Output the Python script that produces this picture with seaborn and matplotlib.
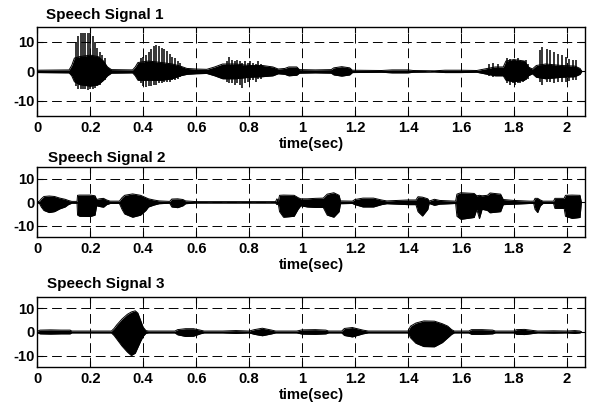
import numpy as np
import seaborn as sns
import matplotlib.pyplot as plt
from matplotlib import transforms

# ---- envelope breakpoints (time in s, amplitude) ----
s1_t = [0.00, 0.12, 0.13, 0.14, 0.16, 0.20, 0.23, 0.25, 0.265, 0.28, 0.36, 0.37, 0.38, 0.42,
        0.47, 0.51, 0.54, 0.565, 0.60, 0.64, 0.67, 0.70, 0.75, 0.80, 0.85, 0.89, 0.91, 0.935,
        0.95, 0.98, 0.99, 1.05, 1.11, 1.12, 1.15, 1.18, 1.19, 1.30, 1.34, 1.40, 1.42, 1.50,
        1.54, 1.60, 1.66, 1.70, 1.73, 1.76, 1.77, 1.80, 1.84, 1.855, 1.87, 1.885, 1.92, 1.98,
        2.03, 2.05, 2.057]
s1_hi = [0.4, 0.5, 2.0, 4.5, 5.0, 5.5, 5.0, 3.5, 1.5, 0.6, 0.5, 1.5, 3.0, 3.5,
         3.0, 2.5, 1.8, 1.0, 0.8, 0.7, 1.5, 2.5, 2.5, 2.0, 2.0, 1.5, 0.8, 1.0,
         1.5, 1.5, 0.6, 0.5, 0.6, 1.2, 1.6, 1.2, 0.4, 0.3, 0.5, 0.5, 0.3, 0.2,
         0.4, 0.4, 0.3, 1.0, 1.5, 1.5, 3.5, 4.0, 3.5, 1.5, 0.8, 2.0, 2.5, 2.0,
         1.8, 1.0, 0.0]
s1_lo = [-0.4, -0.5, -1.5, -3.5, -4.5, -5.0, -4.5, -3.0, -1.5, -0.6, -0.5, -1.5, -3.0, -3.0,
         -3.0, -2.5, -1.5, -1.0, -0.8, -0.7, -1.5, -2.5, -2.5, -2.0, -1.8, -1.5, -0.8, -1.0,
         -1.5, -1.3, -0.6, -0.5, -0.6, -1.2, -1.6, -1.2, -0.4, -0.3, -0.5, -0.5, -0.3, -0.2,
         -0.4, -0.4, -0.3, -1.0, -1.5, -1.5, -3.0, -3.5, -3.0, -1.5, -0.8, -2.0, -2.5, -2.0,
         -1.8, -1.0, 0.0]

# pitch pulses of signal 1
s1_spike_t = [0.146, 0.155, 0.164, 0.173, 0.182, 0.191, 0.200, 0.209, 0.218, 0.227, 0.236, 0.245, 0.254,
              0.39, 0.40, 0.41, 0.42, 0.43, 0.44, 0.45, 0.46, 0.47, 0.48, 0.49, 0.50, 0.51, 0.52, 0.53, 0.54,
              0.715, 0.725, 0.735, 0.745, 0.755, 0.765, 0.775, 0.785, 0.795, 0.805, 0.815, 0.825, 0.835, 0.845,
              1.705, 1.72, 1.74, 1.775, 1.785, 1.795, 1.805, 1.815, 1.825, 1.835, 1.845, 1.855,
              1.897, 1.908, 1.924, 1.937, 1.953, 1.968, 1.981, 1.997, 2.010, 2.022, 2.035]
s1_spike_hi = [10, 12, 13, 13, 13, 13, 13, 12, 10, 8, 6.5, 5.5, 4.5,
               4.5, 5, 5.5, 6.5, 7.5, 8.5, 8.8, 8.5, 8, 7.5, 7, 6, 5, 4.5, 3.5, 3,
               3.5, 4.8, 4, 3.5, 4, 3.5, 3, 3.5, 3, 3.5, 3, 2.5, 3.5, 2.5,
               2.5, 3, 2.5, 4.5, 4.3, 4, 4, 4.5, 3.5, 3.5, 4, 2.5,
               7.1, 8.2, 7.6, 7.1, 6.5, 6.0, 5.4, 4.8, 4.3, 3.9, 3.7]
s1_spike_lo = [-5, -6, -6, -6, -6, -6.3, -6, -6, -5.5, -5, -4.5, -3.5, -3,
               -4, -5, -5.3, -5, -5, -4.5, -4.5, -4, -4, -3.5, -3.5, -3.5, -3, -3, -2.5, -2,
               -3.5, -4, -4, -4.5, -4, -4.5, -5.5, -4, -3.5, -3, -3, -3.5, -2.5, -2.5,
               -1.5, -2, -1.5, -4, -4.5, -4, -4.7, -4, -4, -3.5, -3, -2.5,
               -3.6, -4.5, -3.6, -3.6, -4, -3.6, -3.5, -3.5, -3.2, -3, -3]

s2_t = [0.000, 0.008, 0.015, 0.025, 0.045, 0.065, 0.085, 0.105, 0.117, 0.13, 0.15, 0.152, 0.16,
        0.20, 0.218, 0.224, 0.235, 0.25, 0.262, 0.275, 0.31, 0.32, 0.33, 0.36, 0.39, 0.41, 0.42,
        0.44, 0.46, 0.50, 0.508, 0.53, 0.55, 0.56, 0.60, 0.90, 0.905, 0.91, 0.915, 0.93, 0.97,
        0.985, 0.995, 1.02, 1.05, 1.08, 1.095, 1.12, 1.14, 1.145, 1.19, 1.20, 1.23, 1.27, 1.30,
        1.32, 1.36, 1.40, 1.43, 1.438, 1.455, 1.475, 1.48, 1.50, 1.52, 1.58, 1.585, 1.60, 1.65,
        1.66, 1.67, 1.68, 1.70, 1.71, 1.75, 1.76, 1.80, 1.86, 1.875, 1.88, 1.89, 1.90, 1.91,
        1.95, 1.955, 1.99, 1.995, 2.02, 2.05, 2.055]
s2_hi = [0.2, 0.5, 1.5, 2.5, 2.7, 2.5, 1.8, 1.3, 0.8, 0.4, 0.4, 3.0, 3.1,
         3.1, 2.8, 1.2, 1.5, 1.7, 1.0, 0.5, 0.5, 2.0, 3.0, 3.6, 3.0, 2.0, 1.5,
         1.0, 0.6, 0.4, 1.4, 1.5, 1.2, 0.6, 0.3, 0.3, 1.5, 0.5, 3.0, 3.1, 3.0,
         2.0, 1.5, 1.5, 1.7, 1.8, 3.5, 4.1, 3.0, 0.6, 0.5, 1.2, 1.8, 1.8, 1.0,
         0.6, 0.8, 1.0, 1.0, 2.4, 2.2, 1.5, 0.5, 1.3, 0.8, 0.5, 3.5, 4.1, 3.8,
         2.8, 3.0, 2.8, 3.0, 4.0, 3.5, 1.2, 0.8, 0.5, 0.5, 1.7, 1.7, 1.0, 0.5,
         0.5, 1.7, 1.7, 3.0, 3.1, 3.0, 0.0]
s2_lo = [-0.2, -0.5, -2.0, -3.5, -4.4, -4.0, -2.8, -2.0, -1.0, -0.4, -0.4, -5.5, -6.0,
         -6.1, -5.5, -1.5, -1.8, -2.1, -1.0, -0.5, -0.5, -3.0, -5.0, -6.4, -5.5, -3.5, -2.0,
         -1.2, -0.6, -0.4, -2.0, -2.3, -1.5, -0.6, -0.3, -0.3, -1.0, -0.5, -4.0, -6.4, -6.0,
         -3.0, -1.5, -2.0, -2.2, -2.2, -5.5, -6.4, -4.0, -0.6, -0.5, -1.0, -2.0, -2.0, -1.0,
         -0.6, -0.8, -1.0, -1.0, -4.0, -5.9, -3.0, -0.5, -1.3, -0.8, -0.5, -6.0, -7.3, -6.5,
         -3.0, -7.0, -3.0, -3.5, -4.5, -4.0, -1.0, -0.8, -0.5, -0.5, -3.0, -4.4, -1.5, -0.5,
         -0.5, -2.6, -2.6, -6.0, -6.9, -6.5, 0.0]

s3_t = [0.000, 0.01, 0.05, 0.09, 0.124, 0.13, 0.28, 0.29, 0.30, 0.32, 0.34, 0.355, 0.37,
        0.38, 0.39, 0.40, 0.41, 0.42, 0.52, 0.53, 0.56, 0.59, 0.615, 0.63, 0.70, 0.75, 0.80,
        0.82, 0.85, 0.885, 0.90, 0.98, 1.00, 1.05, 1.09, 1.10, 1.15, 1.16, 1.19, 1.23, 1.25,
        1.40, 1.41, 1.43, 1.46, 1.50, 1.53, 1.55, 1.565, 1.575, 1.63, 1.64, 1.68, 1.72, 1.73,
        1.80, 1.81, 1.84, 1.875, 1.89, 1.95, 2.00, 2.03, 2.05, 2.056]
s3_hi = [0.3, 0.8, 0.9, 0.8, 0.8, 0.4, 0.4, 1.5, 3.0, 5.5, 7.5, 8.5, 9.0,
         8.0, 5.0, 2.0, 0.6, 0.4, 0.4, 1.0, 1.4, 1.4, 0.8, 0.4, 0.4, 0.6, 0.4,
         1.0, 1.6, 0.8, 0.4, 0.4, 0.9, 1.0, 0.8, 0.4, 0.4, 1.5, 1.9, 0.8, 0.4,
         0.4, 2.5, 3.8, 4.7, 4.6, 3.5, 2.5, 1.0, 0.4, 0.4, 1.0, 1.0, 0.8, 0.4,
         0.4, 1.0, 1.1, 0.6, 0.4, 0.5, 0.4, 0.6, 0.4, 0.0]
s3_lo = [-0.3, -0.8, -0.9, -0.8, -0.8, -0.4, -0.4, -1.5, -3.0, -6.0, -8.5, -10.0, -9.0,
         -6.5, -4.0, -1.8, -0.6, -0.4, -0.4, -1.2, -1.9, -1.8, -0.8, -0.4, -0.4, -0.6, -0.4,
         -1.0, -1.6, -0.8, -0.4, -0.4, -0.9, -1.0, -0.8, -0.4, -0.4, -1.5, -2.1, -0.8, -0.4,
         -0.4, -2.5, -4.8, -6.2, -6.3, -4.5, -2.5, -1.0, -0.4, -0.4, -1.0, -1.0, -0.8, -0.4,
         -0.4, -1.0, -1.1, -0.6, -0.4, -0.5, -0.4, -0.6, -0.4, 0.0]

titles = ['Speech Signal 1', 'Speech Signal 2', 'Speech Signal 3']
x_ticks = [0, 0.2, 0.4, 0.6, 0.8, 1.0, 1.2, 1.4, 1.6, 1.8, 2.0]
x_labels = ['0', '0.2', '0.4', '0.6', '0.8', '1', '1.2', '1.4', '1.6', '1.8', '2']
y_ticks = [-10, 0, 10]
y_labels = ['-10', '0', '10']

sns.set_theme(style='ticks')
plt.rcParams['font.family'] = ['Liberation Sans', 'DejaVu Sans']
plt.rcParams['font.weight'] = 'bold'
plt.rcParams['axes.unicode_minus'] = False

fig = plt.figure(figsize=(5.96, 4.09), dpi=100)
fig.patch.set_facecolor('white')

# axes boxes in figure fractions (left, bottom, width, height)
boxes = [[0.0626, 0.717, 0.9195, 0.2169],
         [0.0626, 0.4198, 0.9195, 0.1711],
         [0.0626, 0.102, 0.9195, 0.1726]]
title_dy = [8.5, 5, 9]
title_dx = [8.5, 11, 10]

signals = [(s1_t, s1_hi, s1_lo), (s2_t, s2_hi, s2_lo), (s3_t, s3_hi, s3_lo)]

for i, (t, hi, lo) in enumerate(signals):
    ax = fig.add_axes(boxes[i])
    ax.set_facecolor('white')
    ax.fill_between(t, lo, hi, color='black', linewidth=0)
    sns.lineplot(x=t, y=hi, ax=ax, color='black', linewidth=0.7, estimator=None)
    sns.lineplot(x=t, y=lo, ax=ax, color='black', linewidth=0.7, estimator=None)
    if i == 0:
        ax.vlines(s1_spike_t, s1_spike_lo, s1_spike_hi, color='black', linewidth=1.1)

    ax.set_xlim(0, 2.07)
    ax.set_ylim(-15, 15)
    ax.set_xticks(x_ticks)
    ax.set_xticklabels(x_labels)
    ax.set_yticks(y_ticks)
    ax.set_yticklabels(y_labels)
    ax.grid(True, color='black', linestyle=(0, (10, 5)), linewidth=0.7)
    ax.set_axisbelow(True)
    ax.tick_params(axis='both', direction='in', top=True, right=True, length=4,
                   width=0.8, color='black', labelsize=10.7, labelcolor='black')
    ax.tick_params(axis='x', pad=3.5)
    ax.tick_params(axis='y', pad=2)
    for sp in ax.spines.values():
        sp.set_color('black')
        sp.set_linewidth(1.0)
    ax.set_xlabel('time(sec)', fontsize=10.7, fontweight='bold', labelpad=1.5, color='black')
    ax.set_ylabel('')

    trans = transforms.offset_copy(ax.transAxes, fig=fig, x=title_dx[i], y=title_dy[i], units='dots')
    ax.text(0, 1, titles[i], transform=trans, ha='left', va='baseline',
            fontsize=11, fontweight='bold', color='black')

fig.savefig('out.png', dpi=100, facecolor='white')
